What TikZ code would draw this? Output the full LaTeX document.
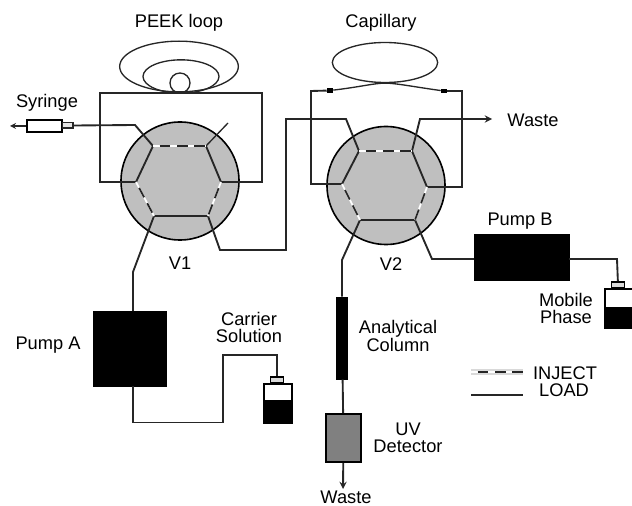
\documentclass[tikz,border=0pt]{standalone}
\usepackage{fontspec}
\setmainfont{Liberation Sans}
\usetikzlibrary{shapes.geometric}
\tikzset{
  pipe/.style = {line width = 1.4pt, black!85},
  thinpipe/.style = {line width = 1pt, black!85},
  valve/.style = {draw, circle, line width = 1.2pt, fill = black!25, inner sep = 0pt, minimum size = 88.5pt},
  pump/.style = {draw, fill = black, inner sep = 0pt},
  bottlebody/.style = {draw, line width = 1.2pt, fill = white, inner sep = 0pt, minimum width = 21pt},
  bottlecap/.style = {draw, line width = 1pt, fill = black!15, inner sep = 0pt, minimum width = 10pt, minimum height = 4pt},
  inject/.style = {line width = 1.3pt, white, postaction = {draw = black!85, dash pattern = on 8pt off 5pt, dash phase = -5pt}},
  caption/.style = {align = center, inner sep = 0pt, font = \fontsize{13.7}{12.8}\selectfont},
  >=stealth
}
\begin{document}
\begin{tikzpicture}[x = .75pt, y = -.75pt]
  \useasboundingbox (0, 0) rectangle (632, 506);

  % valves
  \node (v1) at (180, 181) [valve] {};
  \node (v2) at (386, 185.5) [valve] {};

  % ports of V1
  \coordinate (a1) at (153, 146);
  \coordinate (a2) at (206, 146);
  \coordinate (a3) at (221, 182);
  \coordinate (a4) at (208, 216);
  \coordinate (a5) at (154, 216);
  \coordinate (a6) at (136, 182);
  % ports of V2
  \coordinate (b1) at (359, 151);
  \coordinate (b2) at (412, 151);
  \coordinate (b3) at (427, 187);
  \coordinate (b4) at (415, 220);
  \coordinate (b5) at (360, 220);
  \coordinate (b6) at (342, 184);

  % PEEK loop
  \node (outer) at (179, 66.5) [draw, thinpipe, ellipse, minimum width = 89pt, minimum height = 38pt, inner sep = 0pt] {};
  \node (middle) at (181, 76.5) [draw, thinpipe, ellipse, minimum width = 57pt, minimum height = 25pt, inner sep = 0pt] {};
  \node (small) at (180, 83) [draw, thinpipe, circle, minimum size = 15pt, inner sep = 0pt] {};
  \coordinate (lt) at (100, 93);
  \coordinate (rt) at (262, 93);
  \coordinate (a7) at (228, 123);
  \draw [pipe] (a6)--(lt |- a6)--(lt)--(rt)--(rt |- a3)--(a3);
  \draw [thinpipe] (a2)--(a7);

  % syringe
  \node (syringe) at (44.5, 126) [draw, line width = 1.2pt, fill = white, inner sep = 0pt, minimum width = 26pt, minimum height = 9pt] {};
  \node (nub) at (67.5, 125.5) [draw, thinpipe, fill = black!10, inner sep = 0pt, minimum width = 8pt, minimum height = 4pt] {};
  \coordinate (tip) at (10, 126);
  \coordinate (s1) at (135, 125);
  \draw [thinpipe, <-] (tip)--(syringe);
  \draw [pipe] (nub.east)--(s1)--(a1);

  % V1 to V2
  \coordinate (c1) at (220, 250);
  \coordinate (c2) at (286, 250);
  \coordinate (c3) at (286, 119);
  \coordinate (c4) at (346, 119);
  \draw [pipe] (a4)--(c1)--(c2)--(c3)--(c4)--(b1);

  % capillary
  \node (capillary) at (385, 62.5) [draw, thinpipe, ellipse, minimum width = 79pt, minimum height = 30pt, inner sep = 0pt] {};
  \coordinate (d1) at (311, 91);
  \coordinate (d2) at (462, 91);
  \node (f1) at (330, 90.5) [fill = black, inner sep = 0pt, minimum width = 4.5pt, minimum height = 3.5pt] {};
  \node (f2) at (444, 91) [fill = black, inner sep = 0pt, minimum width = 4.5pt, minimum height = 3.5pt] {};
  \draw [pipe] (b6)--(d1 |- b6)--(d1)--(f1);
  \draw [pipe] (b3)--(d2 |- b3)--(d2)--(f2);
  \draw [thinpipe] (f1) .. controls (360, 87) and (375, 83) .. (capillary.south);
  \draw [thinpipe] (f2) .. controls (415, 87) and (395, 83) .. (capillary.south);

  % waste of V2
  \coordinate (w1) at (420, 119);
  \coordinate (w2) at (492, 119);
  \draw [pipe, ->] (b2)--(w1)--(w2);

  % pump A and carrier solution
  \node (pumpa) at (129.5, 348.5) [pump, minimum width = 54.75pt, minimum height = 56.25pt] {};
  \coordinate (e1) at (133, 311);
  \coordinate (e2) at (133, 272);
  \coordinate (e3) at (133, 386);
  \coordinate (e4) at (133, 422.5);
  \coordinate (e5) at (223, 422.5);
  \coordinate (e6) at (223, 355);
  \coordinate (e7) at (277, 355);
  \node (bottlea) at (278, 403.5) [bottlebody, minimum height = 29pt] {};
  \fill (264, 400) rectangle (292, 423);
  \node (capa) at (277, 379.5) [bottlecap] {};
  \draw [pipe] (a5)--(e2)--(e1);
  \draw [pipe] (e3)--(e4)--(e5)--(e6)--(e7)--(capa);

  % pump B and mobile phase
  \node (pumpb) at (521.5, 257) [pump, minimum width = 71.25pt, minimum height = 34.5pt] {};
  \coordinate (g1) at (432, 259);
  \coordinate (g2) at (474, 259);
  \coordinate (g3) at (569, 259);
  \coordinate (g4) at (617, 259);
  \node (bottleb) at (619, 308.5) [bottlebody, minimum height = 29pt] {};
  \fill (605, 307) rectangle (632, 328.5);
  \node (capb) at (618, 284.5) [bottlecap] {};
  \draw [pipe] (b4)--(g1)--(g2);
  \draw [pipe] (g3)--(g4)--(capb);

  % column and detector
  \node (column) at (342, 338) [pump, minimum width = 8pt, minimum height = 61.5pt] {};
  \node (detector) at (343.5, 438) [draw, line width = 1.4pt, fill = black!50, inner sep = 0pt, minimum width = 26pt, minimum height = 36pt] {};
  \coordinate (h1) at (342, 260);
  \coordinate (h2) at (343, 489);
  \draw [pipe] (b5)--(h1)--(column);
  \draw [pipe] (column)--(detector);
  \draw [pipe, ->] (detector)--(h2);

  % hexagon in V1
  \draw [pipe] (a1)--(a6);
  \draw [pipe] (a2)--(a3);
  \draw [pipe] (a5)--(a4);
  \draw [inject] (a1)--(a2);
  \draw [inject] (a6)--(a5);
  \draw [inject] (a3)--(a4);
  % hexagon in V2
  \draw [pipe] (b1)--(b6);
  \draw [pipe] (b2)--(b3);
  \draw [pipe] (b5)--(b4);
  \draw [inject] (b1)--(b2);
  \draw [inject] (b6)--(b5);
  \draw [inject] (b3)--(b4);

  % legend
  \coordinate (k1) at (471, 372);
  \coordinate (k2) at (523, 372);
  \coordinate (k3) at (471, 395);
  \coordinate (k4) at (523, 395);
  \draw [black!15, line width = 4pt] (k1)--(k2);
  \draw [inject] (k1)--(k2);
  \draw [pipe] (k3)--(k4);

  % labels
  \node (peek) at (179, 23) [caption] {PEEK loop};
  \node (capl) at (381, 23) [caption] {Capillary};
  \node (syr) at (47, 103) [caption] {Syringe};
  \node (wastea) at (533, 120) [caption] {Waste};
  \node (lv1) at (180, 263) [caption] {V1};
  \node (lv2) at (391, 264) [caption] {V2};
  \node (lpa) at (48, 345) [caption] {Pump A};
  \node (lpb) at (520, 221) [caption] {Pump B};
  \node (car) at (249, 327.5) [caption] {Carrier\\Solution};
  \node (ana) at (398, 336) [caption] {Analytical\\Column};
  \node (mob) at (566, 308.5) [caption] {Mobile\\Phase};
  \node (uv) at (408, 437.5) [caption] {UV\\Detector};
  \node (wasteb) at (346, 497) [caption] {Waste};
  \node (inj) at (565, 373) [caption] {INJECT};
  \node (loa) at (564, 390) [caption] {LOAD};
\end{tikzpicture}
\end{document}
